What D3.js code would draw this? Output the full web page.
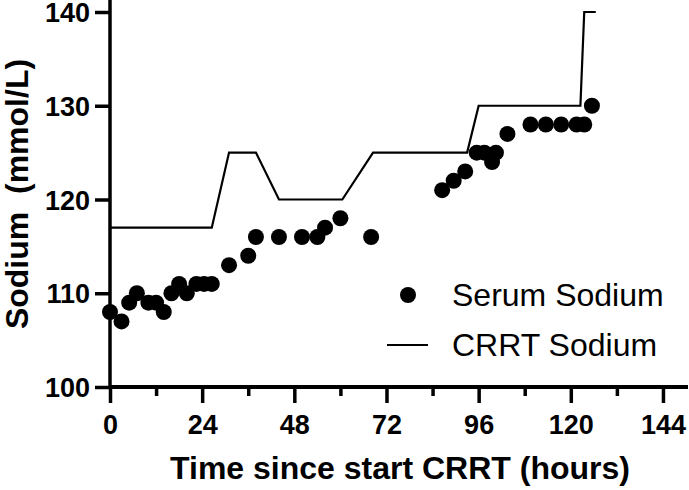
<!DOCTYPE html>
<html lang="en">
<head>
    <meta charset="UTF-8">
    <title>Sodium during CRRT</title>
    <script src="https://cdnjs.cloudflare.com/ajax/libs/d3/7.8.5/d3.min.js"></script>
    <style>
        body {
            margin: 0;
            background: #fff;
        }

        svg text {
            font-family: "Liberation Sans", Arial, sans-serif;
            fill: #000;
        }

        .tick text {
            font-size: 27px;
            font-weight: bold;
        }
    </style>
</head>
<body>
<svg id="chart" width="689" height="490"></svg>

<script>
    // serum sodium measurements (hours, mmol/L)
    let serumHours = [0, 3, 5, 7, 10, 12, 14, 16, 18, 20, 22.5, 24.5, 26.5, 31, 36, 38, 44, 50, 54, 56, 60, 68,
        86.5, 89.5, 92.5, 95.5, 97.5, 99.5, 100.5, 103.5, 109.5, 113.5, 117.5, 121.5, 123.5, 125.5];
    let serumValues = [108, 107, 109, 110, 109, 109, 108, 110, 111, 110, 111, 111, 111, 113, 114, 116, 116, 116, 116, 117, 118, 116,
        121, 122, 123, 125, 125, 124, 125, 127, 128, 128, 128, 128, 128, 130];

    // CRRT dialysate sodium setting
    let crrtHours = [0, 26.5, 31, 38, 44, 60.5, 68.5, 93, 96, 122.5, 123.5, 126.5];
    let crrtValues = [117, 117, 125, 125, 120, 120, 125, 125, 130, 130, 140, 140];

    let xTicks = [0, 24, 48, 72, 96, 120, 144];
    let xMinor = [12, 36, 60, 84, 108, 132];
    let yTicks = [100, 110, 120, 130, 140];

    let svg = d3.select("#chart");

    let x = d3.scaleLinear().domain([0, 150]).range([110, 686]);
    let y = d3.scaleLinear().domain([100, 140]).range([387, 12]);

    // minor x ticks
    svg.append("g")
        .attr("transform", "translate(0," + y(100) + ")")
        .call(d3.axisBottom(x).tickValues(xMinor).tickSize(9).tickFormat(""))
        .call(g => g.select(".domain").remove())
        .selectAll("line").attr("stroke-width", 3.5);

    // x axis
    let xAxis = svg.append("g")
        .attr("transform", "translate(0," + y(100) + ")")
        .call(d3.axisBottom(x).tickValues(xTicks).tickSize(16).tickSizeOuter(0).tickPadding(12));
    xAxis.select(".domain").remove();
    xAxis.selectAll("line").attr("y2", 16).attr("stroke-width", 3.5);

    // y axis
    let yAxis = svg.append("g")
        .attr("transform", "translate(" + x(0) + ",0)")
        .call(d3.axisLeft(y).tickValues(yTicks).tickSize(15).tickSizeOuter(0).tickPadding(5));
    yAxis.select(".domain").remove();
    yAxis.selectAll("line").attr("stroke-width", 3.5);
    yAxis.selectAll("text").attr("dy", "0.36em");

    // axis lines
    svg.append("line")
        .attr("x1", x(0)).attr("x2", 688)
        .attr("y1", y(100)).attr("y2", y(100))
        .attr("stroke", "#000").attr("stroke-width", 4);
    svg.append("line")
        .attr("x1", x(0)).attr("x2", x(0))
        .attr("y1", y(100) + 2).attr("y2", 0)
        .attr("stroke", "#000").attr("stroke-width", 3.5);

    // CRRT line
    let crrt = crrtHours.map((h, i) => [h, crrtValues[i]]);
    svg.append("path")
        .datum(crrt)
        .attr("fill", "none")
        .attr("stroke", "#000")
        .attr("stroke-width", 2.2)
        .attr("d", d3.line().x(d => x(d[0])).y(d => y(d[1])));

    // serum points
    svg.append("g")
        .selectAll("circle")
        .data(serumHours)
        .enter()
        .append("circle")
        .attr("cx", d => x(d))
        .attr("cy", (d, i) => y(serumValues[i]))
        .attr("r", 8)
        .attr("fill", "#000");

    // legend
    svg.append("circle").attr("cx", 408).attr("cy", 295).attr("r", 8).attr("fill", "#000");
    svg.append("text").attr("x", 452).attr("y", 306).attr("font-size", 32).text("Serum Sodium");
    svg.append("line").attr("x1", 387).attr("x2", 428).attr("y1", 345).attr("y2", 345)
        .attr("stroke", "#000").attr("stroke-width", 2);
    svg.append("text").attr("x", 452).attr("y", 356).attr("font-size", 32).text("CRRT Sodium");

    // axis titles
    svg.append("text")
        .attr("x", 400).attr("y", 479)
        .attr("text-anchor", "middle")
        .attr("font-size", 32).attr("font-weight", "bold")
        .text("Time since start CRRT (hours)");

    svg.append("text")
        .attr("transform", "translate(28,194) rotate(-90)")
        .attr("text-anchor", "middle")
        .attr("font-size", 32).attr("font-weight", "bold")
        .style("white-space", "pre")
        .text("Sodium  (mmol/L)");
</script>
</body>
</html>
